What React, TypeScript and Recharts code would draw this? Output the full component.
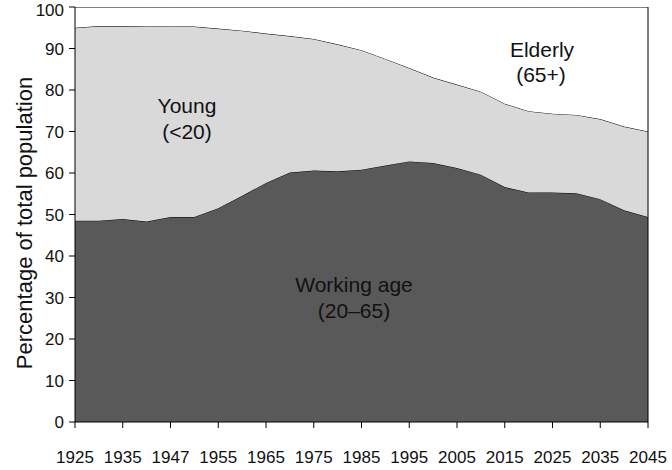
import { Area, AreaChart, XAxis, YAxis, ReferenceLine, Customized } from "recharts"

const years = [
  1925, 1930, 1935, 1940, 1945, 1950, 1955, 1960, 1965, 1970, 1975, 1980, 1985,
  1990, 1995, 2000, 2005, 2010, 2015, 2020, 2025, 2030, 2035, 2040, 2045,
]

const tickYears = [1925, 1935, 1945, 1955, 1965, 1975, 1985, 1995, 2005, 2015, 2025, 2035, 2045]
const tickLabels = ["1925", "1935", "1947", "1955", "1965", "1975", "1985", "1995", "2005", "2015", "2025", "2035", "2045"]

const workingAge = [
  48.5, 48.5, 48.9, 48.3, 49.4, 49.4, 51.5, 54.5, 57.6, 60.1, 60.6, 60.4, 60.8,
  61.8, 62.8, 62.4, 61.2, 59.6, 56.6, 55.3, 55.3, 55.1, 53.7, 51.0, 49.4,
]
const young = [
  46.5, 46.9, 46.5, 47.0, 45.9, 45.9, 43.3, 39.8, 36.0, 32.9, 31.7, 30.6, 28.8,
  25.7, 22.5, 20.6, 20.1, 20.0, 20.1, 19.6, 19.0, 18.9, 19.3, 20.2, 20.6,
]
const elderly = [
  5.0, 4.6, 4.6, 4.7, 4.7, 4.7, 5.2, 5.7, 6.4, 7.0, 7.7, 9.0, 10.4,
  12.5, 14.7, 17.0, 18.7, 20.4, 23.3, 25.1, 25.7, 26.0, 27.0, 28.8, 30.0,
]

const yTicks = [0, 10, 20, 30, 40, 50, 60, 70, 80, 90, 100]

const data = years.map((year, i) => ({
  year,
  working: workingAge[i],
  young: young[i],
  elderly: elderly[i],
}))

const font = "'Liberation Sans', Arial, sans-serif"

const formatYear = (v: number) => {
  const i = tickYears.indexOf(v)
  return i >= 0 ? tickLabels[i] : String(v)
}

function AxisTitle() {
  return (
    <text
      x={24}
      y={223}
      transform="rotate(-90 24 223)"
      textAnchor="middle"
      dominantBaseline="central"
      style={{ fontFamily: font, fontSize: 22, fill: "#111" }}
    >
      Percentage of total population
    </text>
  )
}

// region names sit on top of the areas, so they go in an overlay
function Annotations() {
  const style = { fontFamily: font, fontSize: 21, fill: "#111" }
  return (
    <svg
      width={672}
      height={470}
      style={{ position: "absolute", left: 0, top: 0, pointerEvents: "none" }}
    >
      <text x={187} y={113} textAnchor="middle" style={style}>Young</text>
      <text x={187} y={139} textAnchor="middle" style={style}>(&lt;20)</text>
      <text x={542} y={57} textAnchor="middle" style={style}>Elderly</text>
      <text x={541} y={82} textAnchor="middle" style={style}>(65+)</text>
      <text x={354} y={292} textAnchor="middle" style={style}>Working age</text>
      <text x={354} y={318} textAnchor="middle" style={style}>(20–65)</text>
    </svg>
  )
}

export default function App() {
  return (
    <div style={{ position: "absolute", left: 0, top: 0, width: 672, height: 470, background: "#fff" }}>
      <AreaChart
        width={672}
        height={470}
        data={data}
        margin={{ top: 7, right: 24, left: 0, bottom: 0 }}
      >
        <XAxis
          dataKey="year"
          interval={1}
          tickFormatter={formatYear}
          tickSize={6}
          tickMargin={23}
          stroke="#000"
          tick={{ fill: "#111", fontSize: 17, fontFamily: font }}
          height={48}
        />
        <YAxis
          domain={[0, 100]}
          allowDataOverflow
          ticks={yTicks}
          width={75}
          tickSize={6}
          tickMargin={5}
          stroke="#000"
          tick={{ fill: "#111", fontSize: 17, fontFamily: font }}
        />
        <Area
          type="linear"
          dataKey="working"
          stackId="a"
          stroke="#000"
          strokeWidth={1}
          fill="#595959"
          fillOpacity={1}
          isAnimationActive={false}
        />
        <Area
          type="linear"
          dataKey="young"
          stackId="a"
          stroke="#000"
          strokeWidth={1}
          fill="#d9d9d9"
          fillOpacity={1}
          isAnimationActive={false}
        />
        <Area
          type="linear"
          dataKey="elderly"
          stackId="a"
          stroke="#000"
          strokeWidth={1}
          fill="#ffffff"
          fillOpacity={1}
          isAnimationActive={false}
        />
        <ReferenceLine x={2045} stroke="#000" strokeWidth={1} />
        <Customized component={AxisTitle} />
      </AreaChart>
      <Annotations />
    </div>
  )
}
